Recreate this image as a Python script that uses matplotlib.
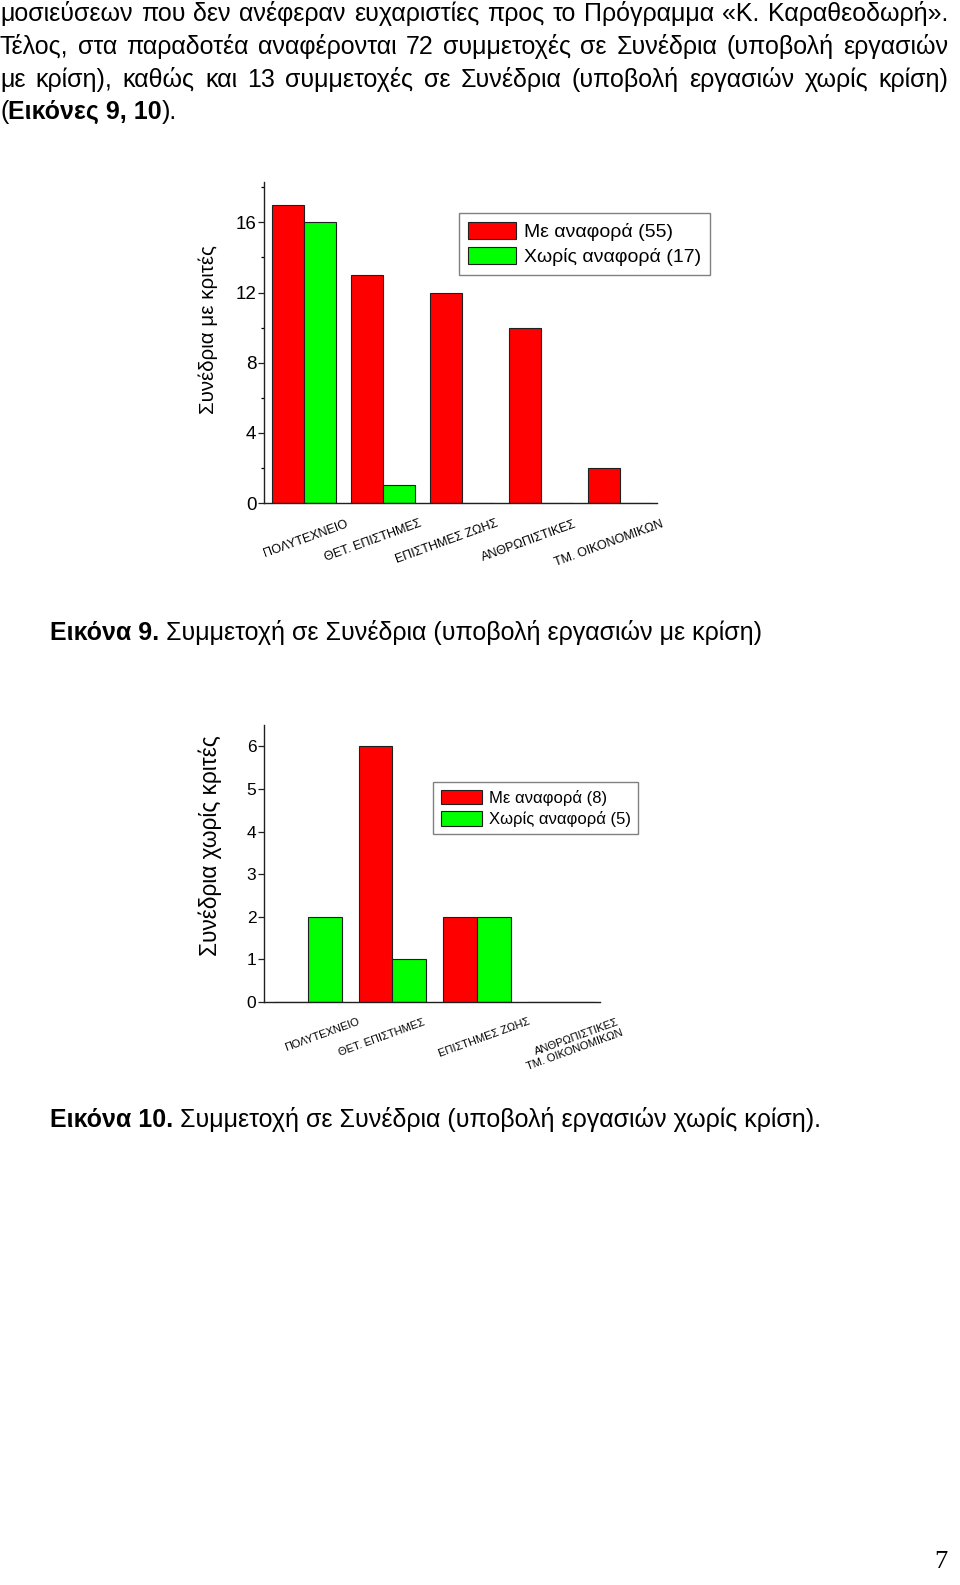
import numpy as np
import matplotlib
matplotlib.use("Agg")
import matplotlib.pyplot as plt
from matplotlib.transforms import IdentityTransform, ScaledTranslation
from matplotlib.patches import Patch

plt.rcParams['font.family'] = ['Liberation Sans', 'DejaVu Sans']

# ---------------- data ----------------
cats1 = ['ΠΟΛΥΤΕΧΝΕΙΟ', 'ΘΕΤ. ΕΠΙΣΤΗΜΕΣ', 'ΕΠΙΣΤΗΜΕΣ ΖΩΗΣ', 'ΑΝΘΡΩΠΙΣΤΙΚΕΣ', 'ΤΜ. ΟΙΚΟΝΟΜΙΚΩΝ']
ref1 = [17, 13, 12, 10, 2]
noref1 = [16, 1, 0, 0, 0]
legend1 = ['Με αναφορά (55)', 'Χωρίς αναφορά (17)']
ylabel1 = 'Συνέδρια με κριτές'
yticks1 = [0, 4, 8, 12, 16]

cats2 = ['ΠΟΛΥΤΕΧΝΕΙΟ', 'ΘΕΤ. ΕΠΙΣΤΗΜΕΣ', 'ΕΠΙΣΤΗΜΕΣ ΖΩΗΣ', 'ΑΝΘΡΩΠΙΣΤΙΚΕΣ\nΤΜ. ΟΙΚΟΝΟΜΙΚΩΝ']
ref2 = [0, 6, 2, 0]
noref2 = [2, 1, 2, 0]
legend2 = ['Με αναφορά (8)', 'Χωρίς αναφορά (5)']
ylabel2 = 'Συνέδρια χωρίς κριτές'
yticks2 = [0, 1, 2, 3, 4, 5, 6]

para_lines = [
    'μοσιεύσεων που δεν ανέφεραν ευχαριστίες προς το Πρόγραμμα «Κ. Καραθεοδωρή».',
    'Τέλος, στα παραδοτέα αναφέρονται 72 συμμετοχές σε Συνέδρια (υποβολή εργασιών',
    'με κρίση), καθώς και 13 συμμετοχές σε Συνέδρια (υποβολή εργασιών χωρίς κρίση)',
]
para_last = [('(', 'normal'), ('Εικόνες 9, 10', 'bold'), (').', 'normal')]
caption1 = [('Εικόνα 9.', 'bold'), ('Συμμετοχή σε Συνέδρια (υποβολή εργασιών με κρίση)', 'normal')]
caption2 = [('Εικόνα 10.', 'bold'), ('Συμμετοχή σε Συνέδρια (υποβολή εργασιών χωρίς κρίση).', 'normal')]
page_no = '7'

RED = '#ff0000'
GREEN = '#00ff00'

W, H = 960, 1585
fig = plt.figure(figsize=(W / 100, H / 100), dpi=100)
fig.patch.set_facecolor('white')
renderer = fig.canvas.get_renderer()
ID = IdentityTransform()
TXT = 18


def width_of(s, size, weight='normal'):
    t = fig.text(0, 0, s, fontsize=size, fontweight=weight, transform=ID)
    w = t.get_window_extent(renderer).width
    t.remove()
    return w


def justify(words, x0, x1, yimg, size):
    ws = [width_of(w, size) for w in words]
    gap = (x1 - x0 - sum(ws)) / (len(words) - 1)
    x = x0
    for w, wd in zip(words, ws):
        fig.text(x, H - yimg, w, fontsize=size, transform=ID, va='baseline')
        x += wd + gap


def runs(parts, x0, yimg, size, spaced=True):
    sp = width_of('a a', size) - width_of('aa', size)
    x = x0
    for i, (s, wt) in enumerate(parts):
        fig.text(x, H - yimg, s, fontsize=size, fontweight=wt, transform=ID, va='baseline')
        x += width_of(s, size, wt)
        if spaced:
            x += sp


# paragraph
base_y = [21, 54, 87]
for line, y in zip(para_lines, base_y):
    justify(line.split(' '), 0, 948, y, TXT)
runs(para_last, 0, 119, TXT, spaced=False)
runs(caption1, 50, 640, TXT)
runs(caption2, 50, 1127, TXT)
fig.text(948, H - 1568, page_no, fontsize=19, family=['Liberation Serif'], transform=ID,
         va='baseline', ha='right')


def bar_chart(rect, cats, ref, noref, xlim, ylim, yticks, minor, ylabel, lab_coords,
              ylsize, ticksize, catsize, legend, leg_anchor, legsize, bw, xoff, yoff, shifts):
    ax = fig.add_axes(rect)
    x = np.arange(len(cats))
    ax.bar(x - bw / 2, ref, bw, color=RED, edgecolor='#202020', linewidth=0.8, zorder=2)
    ax.bar(x + bw / 2, noref, bw, color=GREEN, edgecolor='#202020', linewidth=0.8, zorder=2)
    ax.set_xlim(*xlim)
    ax.set_ylim(*ylim)
    for s in ['top', 'right']:
        ax.spines[s].set_visible(False)
    for s in ['left', 'bottom']:
        ax.spines[s].set_color('#202020')
        ax.spines[s].set_linewidth(1.0)
    ax.set_yticks(yticks)
    ax.set_yticklabels([str(v) for v in yticks], fontsize=ticksize)
    if minor is not None:
        ax.set_yticks(minor, minor=True)
    ax.tick_params(axis='y', direction='out', length=4.5, width=0.9, pad=1, colors='#202020')
    ax.tick_params(axis='y', which='minor', direction='out', length=2.5, width=0.9)
    for lab in ax.get_yticklabels():
        lab.set_color('black')
    ax.set_xticks(x)
    ax.set_xticklabels(cats, fontsize=catsize, rotation=20, ha='right', va='top',
                       rotation_mode='anchor')
    ax.tick_params(axis='x', length=0, pad=0)
    for lab, sh in zip(ax.get_xticklabels(), shifts):
        off = ScaledTranslation((xoff + sh) / 100, -yoff / 100, fig.dpi_scale_trans)
        lab.set_transform(lab.get_transform() + off)
    ax.set_ylabel(ylabel, fontsize=ylsize)
    ax.yaxis.set_label_coords(*lab_coords)
    handles = [Patch(facecolor=RED, edgecolor='#202020', linewidth=0.8),
               Patch(facecolor=GREEN, edgecolor='#202020', linewidth=0.8)]
    lg = fig.legend(handles, legend, loc='upper left', bbox_to_anchor=leg_anchor,
                    bbox_transform=fig.transFigure, fontsize=legsize, frameon=True,
                    fancybox=False, edgecolor='#808080', framealpha=1, borderaxespad=0,
                    handlelength=2.5, handleheight=1.0, handletextpad=0.4,
                    labelspacing=0.3, borderpad=0.45)
    lg.get_frame().set_linewidth(1.0)
    return ax


def frac_rect(l, r, t, b):
    return [l / W, 1 - b / H, (r - l) / W, (b - t) / H]


bar_chart(frac_rect(264, 657, 182, 503), cats1, ref1, noref1, (-0.506, 4.47), (0, 18.3),
          yticks1, [2, 6, 10, 14, 18], ylabel1, (-0.117, 0.54), 14.8, 13.5, 9,
          legend1, (459 / W, 1 - 213 / H), 14, 0.405, 38, 15, [4, -2, -4, -5, 3])

bar_chart(frac_rect(264, 600, 725, 1002), cats2, ref2, noref2, (-0.52, 3.46), (0, 6.5),
          yticks2, None, ylabel2, (-0.125, 0.563), 16.3, 12.5, 8,
          legend2, (433 / W, 1 - 782 / H), 12, 0.40, 45, 15, [5, -15, 6, 11])

fig.savefig('out.png', dpi=100)
